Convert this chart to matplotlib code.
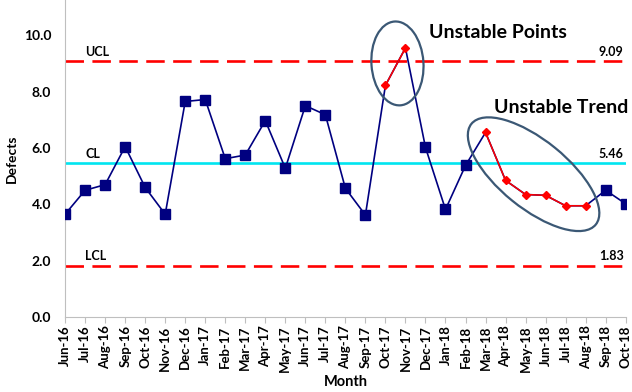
import matplotlib.pyplot as plt
from matplotlib.patches import Ellipse
from matplotlib.transforms import ScaledTranslation

plt.rcParams['font.family'] = ['Lato', 'DejaVu Sans']

months = ['Jun-16', 'Jul-16', 'Aug-16', 'Sep-16', 'Oct-16', 'Nov-16', 'Dec-16',
          'Jan-17', 'Feb-17', 'Mar-17', 'Apr-17', 'May-17', 'Jun-17', 'Jul-17',
          'Aug-17', 'Sep-17', 'Oct-17', 'Nov-17', 'Dec-17', 'Jan-18', 'Feb-18',
          'Mar-18', 'Apr-18', 'May-18', 'Jun-18', 'Jul-18', 'Aug-18', 'Sep-18',
          'Oct-18']
defects = [3.65, 4.5, 4.7, 6.05, 4.6, 3.65, 7.65, 7.72, 5.62, 5.75, 6.97, 5.28,
           7.5, 7.18, 4.57, 3.62, 8.22, 9.55, 6.02, 3.82, 5.38, 6.55, 4.85, 4.35,
           4.32, 3.95, 3.95, 4.5, 4.02]
ucl = 9.09
cl = 5.46
lcl = 1.83
# indices of flagged points
unstable_points = [16, 17]
unstable_trend = [21, 22, 23, 24, 25, 26]

x = list(range(len(months)))
flagged = set(unstable_points + unstable_trend)
normal = [i for i in x if i not in flagged]

fig = plt.figure(figsize=(6.32, 3.92), dpi=100)
ax = fig.add_axes([0.103, 0.191, 0.887, 0.809])

ax.axhline(ucl, color='#ff0000', lw=1.9, dashes=(7, 3.2), zorder=2)
ax.axhline(lcl, color='#ff0000', lw=1.9, dashes=(7, 3.2), zorder=2)
ax.axhline(cl, color='#00e5f0', lw=1.9, zorder=2)

ax.plot(x, defects, color='#000080', lw=1.2, marker='s', markersize=6.5,
        markevery=normal, zorder=3)
for idx in [unstable_points, unstable_trend]:
    ax.plot([x[i] for i in idx], [defects[i] for i in idx], color='#ff0000',
            lw=1.1, marker='D', markersize=4.2, zorder=4)

# limit labels
ax.text(1, ucl + 0.12, 'UCL', fontsize=9, fontweight='bold', va='bottom')
ax.text(1, cl + 0.12, 'CL', fontsize=9, fontweight='bold', va='bottom')
ax.text(1, lcl + 0.12, 'LCL', fontsize=9, fontweight='bold', va='bottom')
ax.text(27.9, ucl + 0.12, f'{ucl:.2f}', fontsize=9, fontweight='bold', ha='right', va='bottom')
ax.text(27.9, cl + 0.12, f'{cl:.2f}', fontsize=9, fontweight='bold', ha='right', va='bottom')
ax.text(27.9, lcl + 0.12, f'{lcl:.2f}', fontsize=9, fontweight='bold', ha='right', va='bottom')

# annotation ellipses, sized in inches around a data-space centre
def ring(cx, cy, w, h, angle):
    tr = fig.dpi_scale_trans + ScaledTranslation(cx, cy, ax.transData)
    ax.add_patch(Ellipse((0, 0), w, h, angle=angle, fill=False,
                         edgecolor='#3b5875', lw=1.6, transform=tr, zorder=5))

ring(16.6, 9.0, 0.52, 0.84, 4)
ring(23.4, 5.07, 1.6, 0.68, -39)
ax.text(18.2, 10.1, 'Unstable Points', fontsize=14, fontweight='bold', va='center')
ax.text(21.4, 7.45, 'Unstable Trend', fontsize=14, fontweight='bold', va='center')

ax.set_xlim(0, 28)
ax.set_ylim(0, 11.25)
ax.set_yticks([0, 2, 4, 6, 8, 10])
ax.set_yticklabels([f'{v:.1f}' for v in [0, 2, 4, 6, 8, 10]], fontsize=10, fontweight='bold')
ax.set_xticks(x)
ax.set_xticklabels(months, rotation=90, fontsize=9.5, fontweight='bold')
ax.set_ylabel('Defects', fontsize=10, fontweight='bold')
ax.set_xlabel('Month', fontsize=10.5, fontweight='bold', labelpad=2)

for s in ['top', 'right']:
    ax.spines[s].set_visible(False)
for s in ['left', 'bottom']:
    ax.spines[s].set_color('#bfbfbf')
    ax.spines[s].set_linestyle((0, (2, 1)))
ax.tick_params(axis='y', length=0, pad=10)
ax.tick_params(axis='x', length=4, color='#bfbfbf', pad=2)

fig.savefig('out.png', dpi=100)
